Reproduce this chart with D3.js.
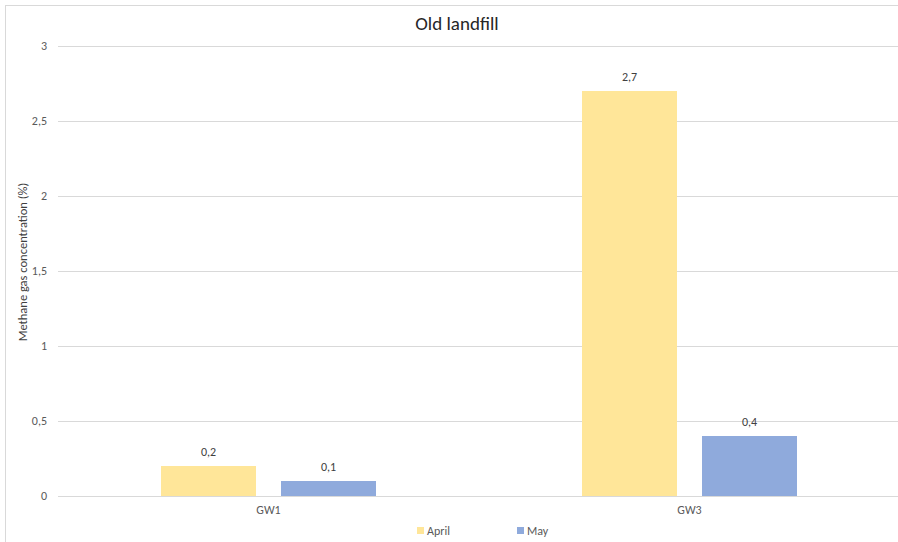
<!DOCTYPE html>
<html>
<head>
<meta charset="utf-8">
<script src="https://cdn.jsdelivr.net/npm/d3@7"></script>
<style>
  body { margin: 0; background: #fff; font-family: Calibri, Carlito, "Open Sans", sans-serif; }
</style>
</head>
<body>
<div id="chart"></div>
<script>
// Data
const categories = ["GW1", "GW3"];
const seriesNames = ["April", "May"];
const april = [0.2, 2.7];
const may = [0.1, 0.4];
const yTicks = [0, 0.5, 1, 1.5, 2, 2.5, 3];
const colors = ["#FFE699", "#8FAADC"];

const width = 898, height = 542;
const margin = { top: 46, right: -2, bottom: 46, left: 58 };

const svg = d3.select("#chart").append("svg")
  .attr("width", width)
  .attr("height", height);

// Chart frame
svg.append("rect")
  .attr("x", 5.5).attr("y", 5.5)
  .attr("width", width + 10).attr("height", height + 10)
  .attr("fill", "none").attr("stroke", "#d9d9d9");

const x0 = d3.scaleBand()
  .domain(categories)
  .range([margin.left, width - margin.right]);

const y = d3.scaleLinear()
  .domain([0, 3])
  .range([height - margin.bottom, margin.top]);

// Grid lines
svg.append("g")
  .selectAll("line")
  .data(yTicks)
  .enter()
  .append("line")
  .attr("x1", margin.left)
  .attr("x2", width - margin.right)
  .attr("y1", (d) => Math.round(y(d)) + 0.5)
  .attr("y2", (d) => Math.round(y(d)) + 0.5)
  .attr("stroke", "#d9d9d9")
  .attr("stroke-width", 1);

// Y axis labels
const fmt = (d) => String(d).replace(".", ",");
svg.append("g")
  .selectAll("text")
  .data(yTicks)
  .enter()
  .append("text")
  .attr("x", margin.left - 11)
  .attr("y", (d) => y(d))
  .attr("dy", "0.35em")
  .attr("text-anchor", "end")
  .attr("font-size", 12)
  .attr("fill", "#595959")
  .text(fmt);

// Bars
const barW = 95, gap = 25;
const rows = categories.map((c, i) => ({ cat: c, vals: [april[i], may[i]] }));

const groups = svg.selectAll(".grp")
  .data(rows)
  .enter()
  .append("g")
  .attr("class", "grp");

groups.selectAll("rect")
  .data((d) => d.vals.map((v, j) => ({ cat: d.cat, v: v, j: j })))
  .enter()
  .append("rect")
  .attr("x", (d) => x0(d.cat) + x0.bandwidth() / 2 + (d.j === 0 ? -barW - gap / 2 : gap / 2))
  .attr("y", (d) => y(d.v))
  .attr("width", barW)
  .attr("height", (d) => y(0) - y(d.v))
  .attr("fill", (d) => colors[d.j]);

// Data labels
groups.selectAll(".lbl")
  .data((d) => d.vals.map((v, j) => ({ cat: d.cat, v: v, j: j })))
  .enter()
  .append("text")
  .attr("class", "lbl")
  .attr("x", (d) => x0(d.cat) + x0.bandwidth() / 2 + (d.j === 0 ? -barW / 2 - gap / 2 : barW / 2 + gap / 2))
  .attr("y", (d) => y(d.v) - 10)
  .attr("text-anchor", "middle")
  .attr("font-size", 12)
  .attr("fill", "#404040")
  .text((d) => fmt(d.v));

// X axis labels
svg.append("g")
  .selectAll("text")
  .data(categories)
  .enter()
  .append("text")
  .attr("x", (d) => x0(d) + x0.bandwidth() / 2)
  .attr("y", y(0) + 18)
  .attr("text-anchor", "middle")
  .attr("font-size", 12)
  .attr("fill", "#595959")
  .text((d) => d);

// Title
svg.append("text")
  .attr("x", 457)
  .attr("y", 30)
  .attr("text-anchor", "middle")
  .attr("font-size", 19)
  .attr("fill", "#262626")
  .text("Old landfill");

// Y axis title
svg.append("text")
  .attr("transform", "translate(27, 262) rotate(-90)")
  .attr("text-anchor", "middle")
  .attr("font-size", 12.5)
  .attr("fill", "#404040")
  .text("Methane gas concentration (%)");

// Legend
const legendX = [417, 517];
const legend = svg.selectAll(".leg")
  .data(seriesNames)
  .enter()
  .append("g")
  .attr("class", "leg")
  .attr("transform", (d, i) => `translate(${legendX[i]}, 527)`);

legend.append("rect")
  .attr("width", 7).attr("height", 7)
  .attr("fill", (d, i) => colors[i]);

legend.append("text")
  .attr("x", 10)
  .attr("y", 4)
  .attr("dy", "0.35em")
  .attr("font-size", 12)
  .attr("fill", "#595959")
  .text((d) => d);
</script>
</body>
</html>
